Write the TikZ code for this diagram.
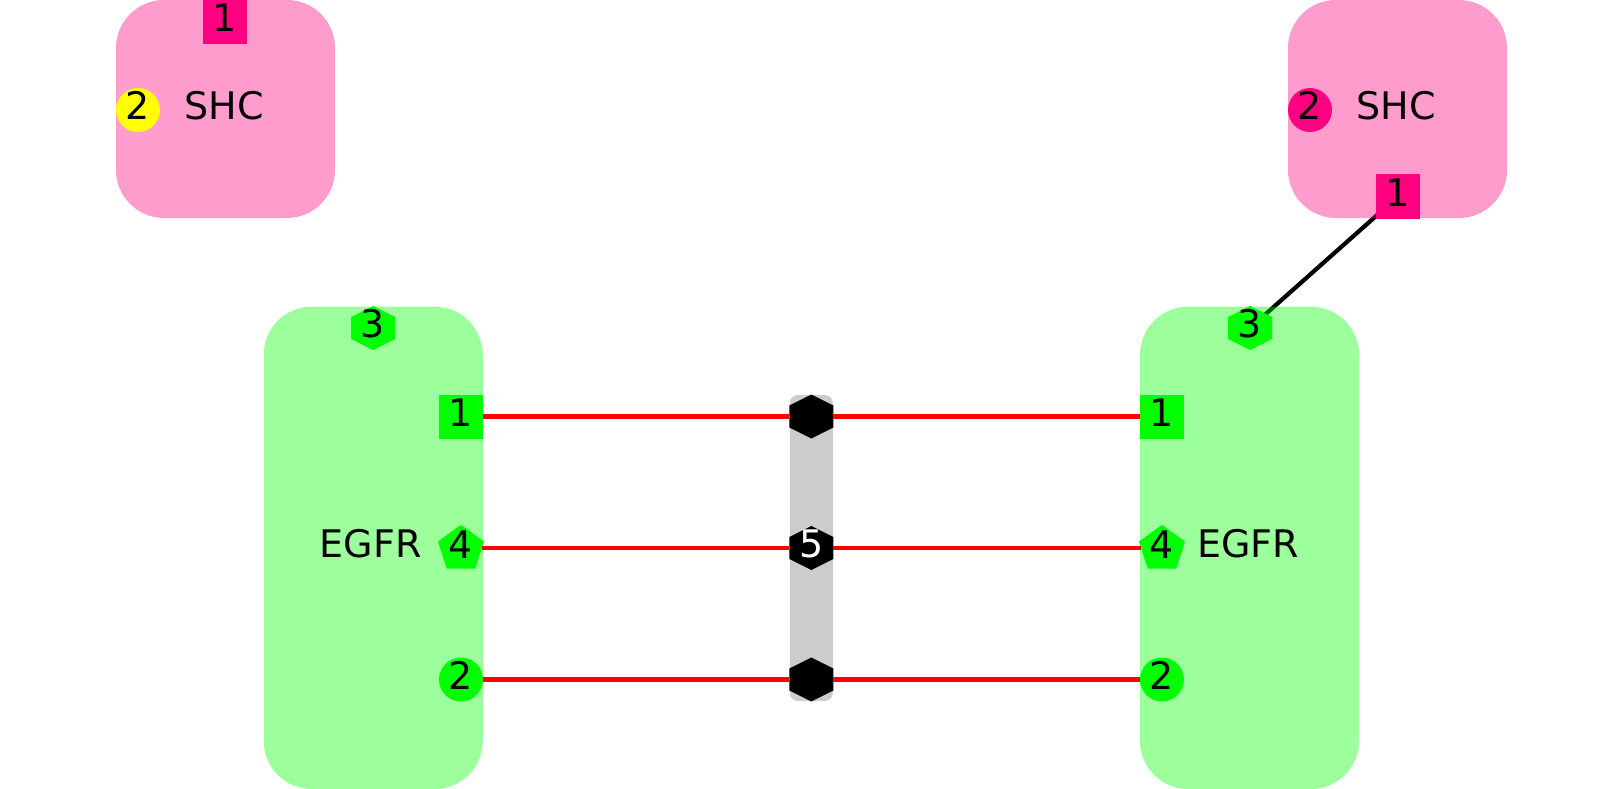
\documentclass[tikz,border=0pt]{standalone}
\usepackage{fontspec}
\setmainfont{DejaVu Sans}
\usetikzlibrary{shapes.geometric}
\pgfdeclarelayer{bglines}
\pgfdeclarelayer{boxes}
\pgfsetlayers{bglines,boxes,main}
\definecolor{mag}{RGB}{255,0,128}
\definecolor{grn}{RGB}{0,255,0}
\definecolor{ylw}{RGB}{255,255,0}
\definecolor{rd}{RGB}{255,0,0}
\definecolor{gry}{RGB}{204,204,204}
\newcommand{\liftnum}[1]{\raisebox{4pt}[0.729em][0pt]{#1}}
\begin{document}
\begin{tikzpicture}[x=1pt,y=-1pt,
  every node/.style={font=\fontsize{38}{40}\selectfont, inner sep=0pt, outer sep=0pt, text=black},
  bigbox/.style={fill=#1, fill opacity=0.39, rounded corners=48pt, minimum width=219pt},
  sqport/.style={fill=#1, minimum size=44pt},
  circport/.style={circle, fill=#1, minimum size=44pt},
  pentport/.style={regular polygon, regular polygon sides=5, fill=#1, minimum size=46pt},
  hexport/.style={minimum width=44pt, minimum height=44pt,
    path picture={\fill[#1]
      ([shift={(0pt,22pt)}]path picture bounding box.center) --
      ([shift={(22pt,11pt)}]path picture bounding box.center) --
      ([shift={(22pt,-11pt)}]path picture bounding box.center) --
      ([shift={(0pt,-22pt)}]path picture bounding box.center) --
      ([shift={(-22pt,-11pt)}]path picture bounding box.center) --
      ([shift={(-22pt,11pt)}]path picture bounding box.center) -- cycle;}},
  redline/.style={draw=rd, line width=4.5pt},
  blkline/.style={draw=black, line width=4.2pt}]
\useasboundingbox (0,0) rectangle (1623,789);

% big boxes
\begin{pgfonlayer}{boxes}
\node[bigbox=mag, minimum height=218pt] (shcL) at (225.5,109) {};
\node[bigbox=mag, minimum height=218pt] (shcR) at (1397.5,109) {};
\node[bigbox=grn, minimum height=482.3pt] (egfrL) at (373.3,547.85) {};
\node[bigbox=grn, minimum height=482.3pt] (egfrR) at (1249.5,547.85) {};
\end{pgfonlayer}

% labels
\node (shcLlab) at (224,106) {SHC};
\node (shcRlab) at (1396,106) {SHC};
\node (egfrLlab) at (370.7,544) {EGFR};
\node (egfrRlab) at (1248,544) {EGFR};

% gray bar
\node[fill=gry, rounded corners=8pt, minimum width=43pt, minimum height=306pt] (bar) at (811.3,548) {};

% SHC ports
\node[sqport=mag] (LS1) at (225,22) {\liftnum{1}};
\node[circport=ylw] (LS2) at (138,110) {\liftnum{2}};
\node[sqport=mag] (RS1) at (1398,196.5) {\liftnum{1}};
\node[circport=mag] (RS2) at (1310,110) {\liftnum{2}};

% EGFR left ports
\node[hexport=grn] (LH3) at (373,328) {\liftnum{3}};
\node[sqport=grn] (L1) at (461,416.5) {\liftnum{1}};
\node[pentport=grn] (L4) at (461,549) {\liftnum{4}};
\node[circport=grn] (L2) at (461,679.5) {\liftnum{2}};

% EGFR right ports
\node[hexport=grn] (RH3) at (1250,328) {\liftnum{3}};
\node[sqport=grn] (R1) at (1162,416.5) {\liftnum{1}};
\node[pentport=grn] (R4) at (1162,549) {\liftnum{4}};
\node[circport=grn] (R2) at (1162,679.5) {\liftnum{2}};

% complex hexagons
\node[hexport=black] (H1) at (811.3,416.5) {};
\node[hexport=black, text=white] (H5) at (811.3,548) {\liftnum{5}};
\node[hexport=black] (H2) at (811.3,679.5) {};

% connectors
\begin{pgfonlayer}{bglines}
\draw[blkline] (RS1.center) -- (RH3.center);
\end{pgfonlayer}
\draw[redline] (L1) -- (H1);
\draw[redline] (H1) -- (R1);
\draw[redline] (L4.east |- H5) -- (H5);
\draw[redline] (H5) -- (R4.west |- H5);
\draw[redline] (L2) -- (H2);
\draw[redline] (H2) -- (R2);
\end{tikzpicture}
\end{document}
